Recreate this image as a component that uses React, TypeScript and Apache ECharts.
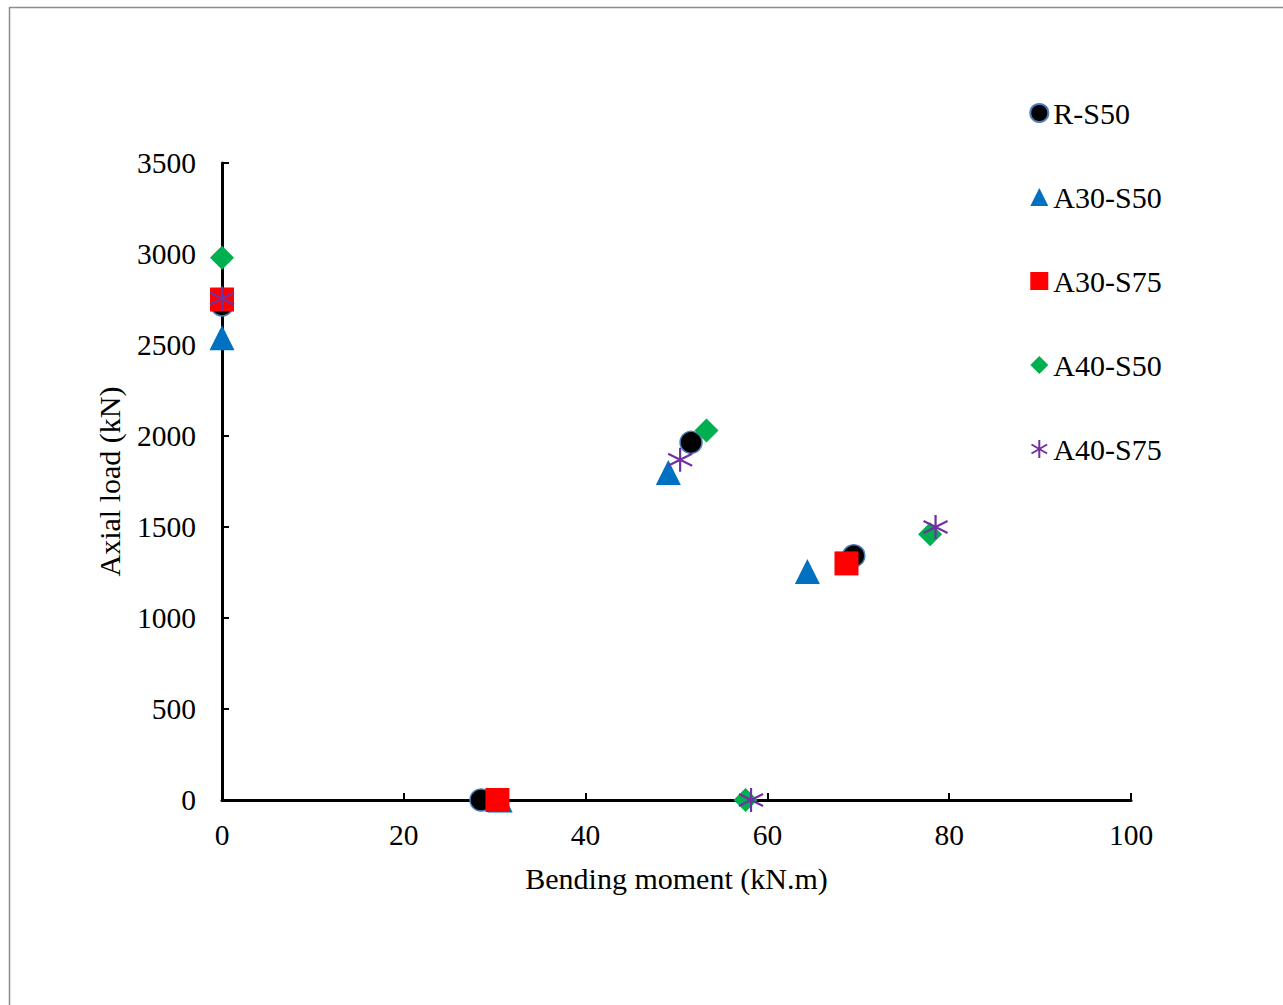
import React, { useEffect, useRef } from "react";
import * as echarts from "echarts";

const seriesNames = ["R-S50", "A30-S50", "A30-S75", "A40-S50", "A40-S75"];
const rS50: number[][] = [[0, 2720], [51.6, 1965], [69.5, 1342], [28.5, 0]];
const a30S50: number[][] = [[0, 2540], [49.1, 1800], [64.4, 1255], [30.6, 0]];
const a30S75: number[][] = [[0, 2750], [68.7, 1300], [30.3, 0]];
const a40S50: number[][] = [[0, 2980], [53.3, 2030], [77.9, 1460], [57.6, 0]];
const a40S75: number[][] = [[0, 2755], [50.4, 1870], [78.5, 1500], [58.2, 0]];
const xTicks = { min: 0, max: 100, interval: 20 };
const yTicks = { min: 0, max: 3500, interval: 500 };

const FONT = "'Liberation Serif', 'Times New Roman', serif";
const STAR = "path://M10,0 L10,20 M1.34,5 L18.66,15 M1.34,15 L18.66,5";

export default function App() {
  const ref = useRef<HTMLDivElement>(null);
  useEffect(() => {
    if (!ref.current) return;
    const chart = echarts.init(ref.current, undefined, { renderer: "svg" });
    const mk = (name: string, data: number[][], symbol: string, size: number, itemStyle: any) => ({
      name,
      type: "scatter",
      data,
      symbol,
      symbolSize: size,
      itemStyle: { opacity: 1, ...itemStyle },
      clip: false,
      emphasis: { disabled: true },
    });
    chart.setOption({
      animation: false,
      backgroundColor: "#ffffff",
      textStyle: { fontFamily: FONT },
      graphic: [
        {
          type: "rect",
          shape: { x: 9.5, y: 7.5, width: 1300, height: 1020 },
          style: { fill: "none", stroke: "#8c8c8c", lineWidth: 1.5 },
          silent: true,
        },
      ],
      grid: { left: 222, right: 152, top: 163, bottom: 205 },
      legend: {
        orient: "vertical",
        left: 1029,
        top: 96,
        padding: 0,
        itemGap: 50,
        itemWidth: 18,
        itemHeight: 18,
        textStyle: { fontFamily: FONT, fontSize: 30, color: "#000", lineHeight: 34 },
        data: seriesNames,
      },
      xAxis: {
        type: "value",
        min: xTicks.min,
        max: xTicks.max,
        interval: xTicks.interval,
        name: "Bending moment (kN.m)",
        nameLocation: "middle",
        nameGap: 63,
        nameTextStyle: { fontFamily: FONT, fontSize: 30, color: "#000" },
        axisLine: { show: true, lineStyle: { color: "#000", width: 3 } },
        axisTick: { show: true, inside: true, length: 7, lineStyle: { color: "#000", width: 2 } },
        axisLabel: { fontFamily: FONT, fontSize: 29.5, color: "#000", margin: 20, formatter: (v: number) => String(v) },
        splitLine: { show: false },
      },
      yAxis: {
        type: "value",
        min: yTicks.min,
        max: yTicks.max,
        interval: yTicks.interval,
        name: "Axial load (kN)",
        nameLocation: "middle",
        nameGap: 98,
        nameTextStyle: { fontFamily: FONT, fontSize: 30, color: "#000" },
        axisLine: { show: true, lineStyle: { color: "#000", width: 3 } },
        axisTick: { show: true, inside: true, length: 7, lineStyle: { color: "#000", width: 2 } },
        axisLabel: { fontFamily: FONT, fontSize: 29.5, color: "#000", margin: 26, formatter: (v: number) => String(v) },
        splitLine: { show: false },
      },
      series: [
        mk(seriesNames[0], rS50, "circle", 22, { color: "#000000", borderColor: "#4a7ebb", borderWidth: 1.5 }),
        mk(seriesNames[1], a30S50, "triangle", 25, { color: "#0070C0" }),
        mk(seriesNames[2], a30S75, "rect", 24, { color: "#FF0000" }),
        mk(seriesNames[3], a40S50, "diamond", 24, { color: "#00B050" }),
        mk(seriesNames[4], a40S75, STAR, 24, { color: "none", borderColor: "#7030A0", borderWidth: 2.2 }),
      ],
    });
    return () => chart.dispose();
  }, []);
  return (
    <div
      ref={ref}
      style={{ position: "fixed", left: 0, top: 0, width: 1283, height: 1005, background: "#fff" }}
    />
  );
}
